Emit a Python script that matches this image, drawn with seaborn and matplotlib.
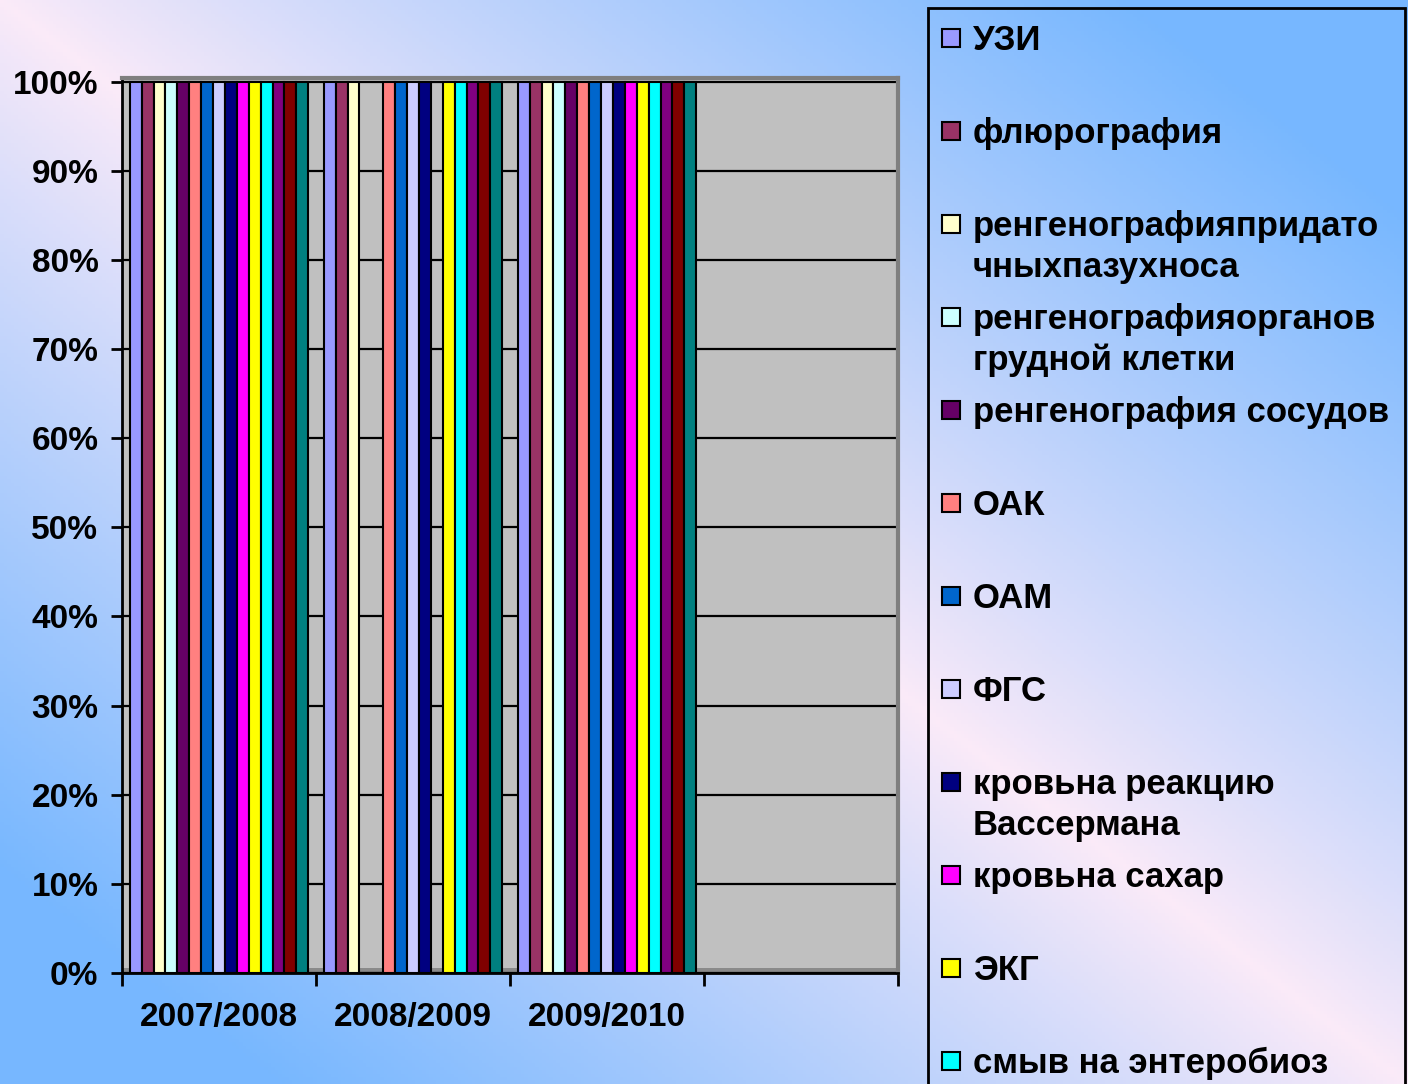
import numpy as np
import pandas as pd
import matplotlib
matplotlib.use("Agg")
import matplotlib.pyplot as plt
import seaborn as sns
from matplotlib.patches import Rectangle
from matplotlib.ticker import FuncFormatter, FixedLocator

# ---------------- data ----------------
categories = ["2007/2008", "2008/2009", "2009/2010"]

series = [
    "УЗИ",
    "флюрография",
    "ренгенографияпридаточныхпазухноса",
    "ренгенографияорганов грудной клетки",
    "ренгенография сосудов",
    "ОАК",
    "ОАМ",
    "ФГС",
    "кровьна реакцию Вассермана",
    "кровьна сахар",
    "ЭКГ",
    "смыв на энтеробиоз",
    "Ряд 13",
    "Ряд 14",
    "Ряд 15",
]

# legend texts as wrapped in the reference (only the first 12 are visible there)
legend_labels = [
    "УЗИ",
    "флюрография",
    "ренгенографияпридато\nчныхпазухноса",
    "ренгенографияорганов\nгрудной клетки",
    "ренгенография сосудов",
    "ОАК",
    "ОАМ",
    "ФГС",
    "кровьна реакцию\nВассермана",
    "кровьна сахар",
    "ЭКГ",
    "смыв на энтеробиоз",
]

# share (%) per series for each period
values = [
    [100, 100, 100],
    [100, 100, 100],
    [100, 100, 100],
    [100, 0, 100],
    [100, 0, 100],
    [100, 100, 100],
    [100, 100, 100],
    [100, 100, 100],
    [100, 100, 100],
    [100, 0, 100],
    [100, 100, 100],
    [100, 100, 100],
    [100, 100, 100],
    [100, 100, 100],
    [100, 100, 100],
]

colors = [
    "#9999FF", "#993366", "#FFFFCC", "#CCFFFF", "#660066",
    "#FF8080", "#0066CC", "#CCCCFF", "#000080", "#FF00FF",
    "#FFFF00", "#00FFFF", "#800080", "#800000", "#008080",
]

yticks = list(range(0, 101, 10))

# ---------------- figure ----------------
W, H = 1408, 1084
DPI = 100
sns.set_style("white")
plt.rcParams["font.family"] = ["Liberation Sans", "DejaVu Sans"]
plt.rcParams["font.weight"] = "bold"

fig = plt.figure(figsize=(W / DPI, H / DPI), dpi=DPI)

# background gradient
bg = fig.add_axes([0, 0, 1, 1], zorder=-10)
xx, yy = np.meshgrid(np.linspace(0, 1, 400), np.linspace(0, 1, 310))
u = xx - yy
s = np.clip(np.abs(u) / 0.8, 0, 1) ** 0.9
pink = np.array([0.985, 0.92, 0.975])
blue = np.array([0.47, 0.72, 1.0])
img = pink[None, None, :] * (1 - s[..., None]) + blue[None, None, :] * s[..., None]
bg.imshow(img, aspect="auto", extent=[0, 1, 0, 1], origin="upper")
bg.set_axis_off()

# main axes in pixel coordinates
L, R, T, B = 122, 898, 78, 973
ax = fig.add_axes([L / W, 1 - B / H, (R - L) / W, (B - T) / H])
ax.set_facecolor("#C0C0C0")

df = pd.DataFrame(
    [(c, s_, v[j]) for s_, v in zip(series, values) for j, c in enumerate(categories)],
    columns=["period", "series", "share"],
)

sns.barplot(
    data=df, x="period", y="share", hue="series",
    order=categories, hue_order=series, palette=colors,
    width=0.92, gap=0, saturation=1, errorbar=None,
    edgecolor="black", linewidth=1.5, legend=False, ax=ax,
)

ax.set_xlim(-0.5, 3.5)
ax.set_ylim(0, 100.4)
ax.set_axisbelow(True)
# darker floor strip of the 3D plot area
ax.axhspan(0, 0.6, color="#8A8A8A", zorder=0.5, linewidth=0)
ax.yaxis.set_major_locator(FixedLocator(yticks))
ax.yaxis.set_major_formatter(FuncFormatter(lambda v, p: f"{v:.0f}%"))
ax.grid(axis="y", color="black", linewidth=1.6)
ax.grid(axis="x", visible=False)
ax.set_xlabel("")
ax.set_ylabel("")

for sp in ["top", "right"]:
    ax.spines[sp].set_visible(True)
    ax.spines[sp].set_color("#7F7F7F")
    ax.spines[sp].set_linewidth(3)
for sp in ["left", "bottom"]:
    ax.spines[sp].set_color("black")
    ax.spines[sp].set_linewidth(2)

ax.tick_params(axis="y", direction="out", length=8, width=2, color="black",
               labelsize=24, pad=9, left=True)
ax.xaxis.set_minor_locator(FixedLocator([-0.5, 0.5, 1.5, 2.5, 3.5]))
ax.tick_params(axis="x", which="minor", direction="out", length=9, width=2,
               color="black", bottom=True)
ax.tick_params(axis="x", which="major", length=0, labelsize=24, pad=21)
for lab in ax.get_xticklabels() + ax.get_yticklabels():
    lab.set_fontweight("bold")
    lab.set_color("black")

# ---------------- legend (manual layout, spacing as in reference) ----------------
fig.add_artist(Rectangle((928 / W, 1 - 1200 / H), (1405 - 928) / W, (1200 - 8) / H,
                         transform=fig.transFigure, fill=False,
                         edgecolor="black", linewidth=2, clip_on=False))
for i, (lab, col) in enumerate(zip(legend_labels, colors)):
    yc = 38 + 93 * i
    fig.add_artist(Rectangle((942 / W, 1 - (yc + 9) / H), 18 / W, 18 / H,
                             transform=fig.transFigure, facecolor=col,
                             edgecolor="black", linewidth=1.5))
    for j, line in enumerate(lab.split("\n")):
        yb = yc + 12 + 41 * j
        fig.text(973 / W, 1 - yb / H, line, fontsize=25, fontweight="bold",
                 ha="left", va="baseline", color="black")

fig.savefig("out.png", dpi=DPI)
